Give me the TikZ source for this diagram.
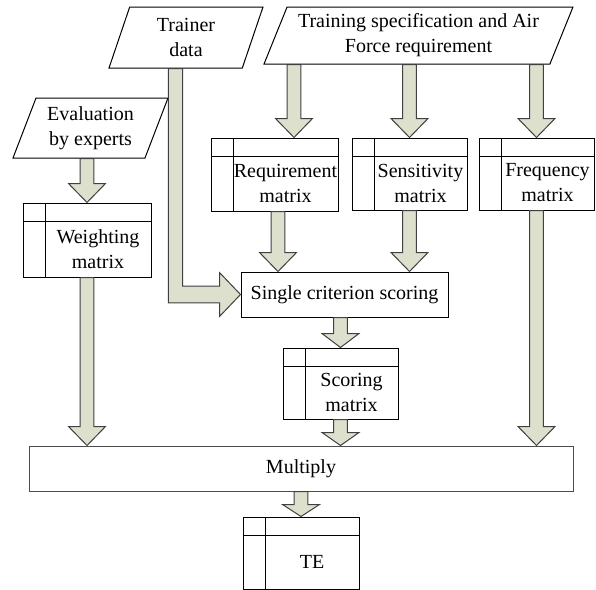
\documentclass[tikz,border=0pt]{standalone}
\usepackage{fontspec}
\setmainfont{Liberation Serif}
\usetikzlibrary{shapes.geometric,calc}
\definecolor{shaftfill}{RGB}{221,224,205}
\definecolor{shaftline}{RGB}{64,64,64}
\newcommand\shaftw{3.4pt}
\newcommand\headw{9.25pt}
% fat block arrow straight down, x taken from the tip
\newcommand\fatdown[3][9.5pt]{%
  \filldraw[fatarrow] let \p1=(#2), \p2=(#3) in
    (\x2-\shaftw,\y1) -- (\x2-\shaftw,\y2+#1) -- (\x2-\headw,\y2+#1) -- (\x2,\y2)
    -- (\x2+\headw,\y2+#1) -- (\x2+\shaftw,\y2+#1) -- (\x2+\shaftw,\y1) -- cycle;}
\tikzset{
  every node/.style={font=\fontsize{10}{12.5}\selectfont},
  databox/.style={draw, trapezium, trapezium left angle=64, trapezium right angle=116,
    trapezium stretches body, align=center, inner sep=1pt, line width=0.5pt},
  procbox/.style={draw, rectangle, line width=0.5pt, minimum height=22.5pt, inner sep=0pt},
  matbox/.style={draw, rectangle, line width=0.5pt, minimum width=57.5pt, minimum height=36pt, inner sep=0pt,
    path picture={
      \draw[line width=0.5pt] ([yshift=-9pt]path picture bounding box.north west) -- ([yshift=-9pt]path picture bounding box.north east);
      \draw[line width=0.5pt] ([xshift=11pt]path picture bounding box.north west) -- ([xshift=11pt]path picture bounding box.south west);},
    label={[align=center, xshift=5.5pt, yshift=-4.5pt]center:#1}},
  fatarrow/.style={fill=shaftfill, draw=shaftline, line width=0.5pt, line join=miter},
}
\begin{document}
\begin{tikzpicture}[x=0.5pt,y=-0.5pt]
\useasboundingbox (0,0) rectangle (596,590);
% inputs
\node[databox, minimum width=154.5pt, minimum height=28.5pt] (spec) at (418.5,35.5) {Training specification and Air\\Force requirement};
\node[databox, minimum width=77pt, minimum height=30.5pt] (trainer) at (186,37.5) {Trainer\\data};
\node[databox, minimum width=77.5pt, minimum height=30pt] (eval) at (90.5,128) {Evaluation\\by experts};
% matrices
\node[matbox={Weighting\\matrix}, minimum width=64pt, minimum height=37pt] (weight) at (87,240) {};
\node[matbox={Requirement\\matrix}, minimum width=63.5pt, minimum height=36.5pt] (req) at (274.5,174.5) {};
\node[matbox={Sensitivity\\matrix}] (sens) at (409.5,174) {};
\node[matbox={Frequency\\matrix}] (freq) at (536.5,174) {};
\node[procbox, minimum width=103.5pt] (single) at (344.5,294.5) {Single criterion scoring};
\node[matbox={Scoring\\matrix}, minimum height=35.5pt] (score) at (340.5,383.5) {};
\node[procbox, minimum width=272pt, draw=black!70] (mult) at (301,468.5) {Multiply};
\node[matbox={TE}, minimum width=58pt] (te) at (301,553) {};
% arrows
\fatdown{eval.south}{weight.north}
\fatdown{spec.south}{[xshift=9.75pt]req.north}
\fatdown{spec.south}{sens.north}
\fatdown{spec.south}{freq.north}
\fatdown{req.south}{[xshift=1.75pt]req.south |- single.north}
\fatdown{sens.south}{sens.south |- single.north}
\fatdown[7pt]{single.south}{score.north}
\fatdown[6.5pt]{score.south}{score.south |- mult.north}
\fatdown{weight.south}{weight.south |- mult.north}
\fatdown{freq.south}{freq.south |- mult.north}
\fatdown[6pt]{mult.south}{te.north}
\filldraw[fatarrow] let \p1=(trainer.bottom side), \p2=(single.west) in
  (\x1-3.6pt,\y1) -- (\x1-3.6pt,\y2-4.2pt) -- (\x2-10.5pt,\y2-4.2pt) -- (\x2-10.5pt,\y2-11pt)
  -- (\x2,\y2) -- (\x2-10.5pt,\y2+11pt) -- (\x2-10.5pt,\y2+4.2pt) -- (\x1+3.6pt,\y2+4.2pt)
  -- (\x1+3.6pt,\y1) -- cycle;
\end{tikzpicture}
\end{document}
